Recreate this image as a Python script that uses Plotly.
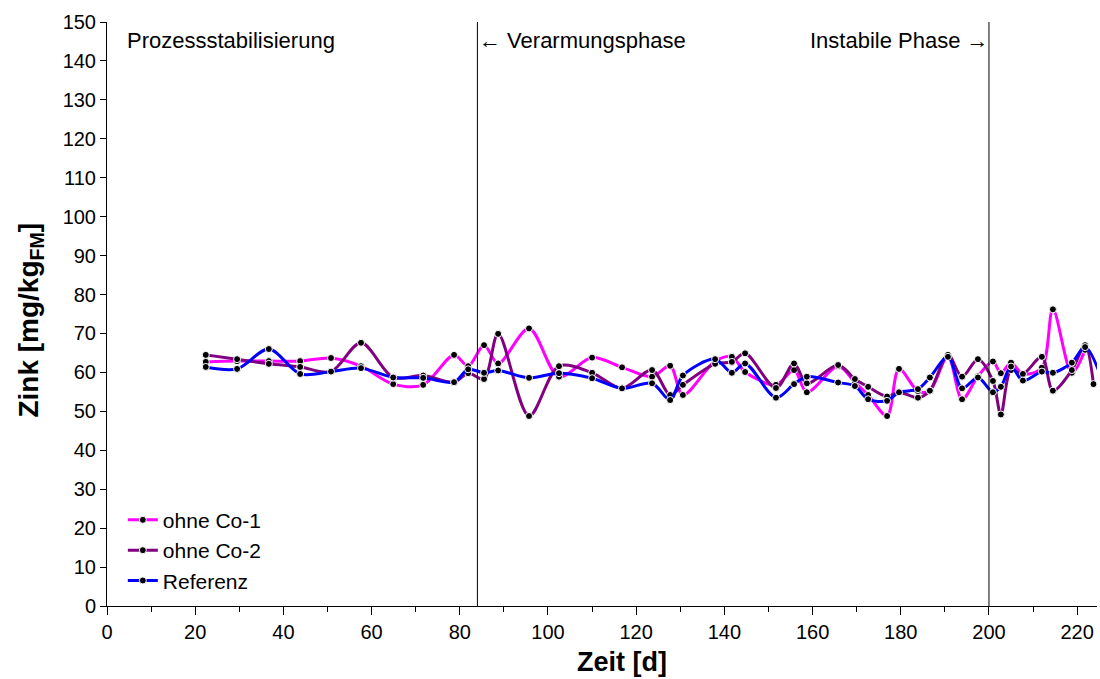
import plotly.graph_objects as go

# Sampling days [d]
days = [22.4, 29.5, 36.7, 43.8, 50.8, 57.6, 64.9, 71.7, 78.7, 81.9,
        85.5, 88.7, 95.7, 102.5, 110.0, 116.8, 123.6, 127.7, 130.6, 137.9,
        141.7, 144.7, 151.7, 155.8, 158.7, 165.8, 169.6, 172.6, 176.9, 179.6,
        183.9, 186.6, 190.7, 193.9, 197.5, 200.9, 202.7, 205.0, 207.7, 212.0,
        214.5, 218.8, 221.8, 223.7, 226.0]

# Zinc content [mg/kg FM]
ohne_co_1 = [62.7, 62.9, 62.9, 62.9, 63.7, 61.6, 57.0, 56.8, 64.5, 61.6,
             67.0, 62.3, 71.3, 58.9, 63.8, 61.3, 58.9, 61.7, 54.2, 62.9,
             64.0, 60.1, 56.8, 60.6, 54.9, 61.6, 57.5, 54.2, 48.8, 60.9,
             55.2, 55.3, 64.2, 53.1, 59.0, 62.8, 59.8, 62.5, 59.6, 61.2,
             76.2, 59.9, 65.8, None, None]
ohne_co_2 = [64.5, 63.4, 62.2, 61.4, 60.2, 67.6, 58.7, 59.2, 57.5, 59.8,
             58.3, 69.9, 48.8, 61.6, 59.9, 55.9, 60.6, 54.2, 56.8, 62.2,
             62.7, 64.9, 56.0, 62.3, 57.2, 61.9, 58.3, 56.3, 53.8, 54.9,
             53.5, 55.3, 64.5, 58.9, 63.4, 57.8, 49.2, 60.6, 59.6, 64.0,
             55.3, 60.6, 67.0, 57.0, None]
referenz = [61.4, 60.9, 66.0, 59.6, 60.2, 61.1, 58.7, 58.6, 57.5, 60.8,
            59.9, 60.5, 58.6, 59.8, 58.5, 55.9, 57.2, 52.9, 59.2, 63.4,
            59.9, 62.3, 53.5, 57.0, 58.9, 57.4, 56.5, 53.1, 52.7, 54.9,
            55.7, 58.7, 64.0, 55.9, 58.7, 54.9, 56.3, 61.5, 57.9, 60.2,
            59.9, 62.5, 66.5, None, 57.0]

series = [("ohne Co-1", ohne_co_1, "#FF00FF"),
          ("ohne Co-2", ohne_co_2, "#800080"),
          ("Referenz", referenz, "#0000FF")]

# Phase boundaries and labels
phase_bounds = [84, 200]
x_ticks = list(range(0, 221, 20))
y_ticks = list(range(0, 151, 10))

FONT = "Liberation Sans, Arial, sans-serif"

fig = go.Figure()
for name, vals, col in series:
    fig.add_trace(go.Scatter(
        x=days, y=vals, name=name, mode="lines+markers",
        connectgaps=True,
        line=dict(color=col, width=3, shape="spline", smoothing=0.9),
        marker=dict(color="black", size=7, line=dict(color="white", width=1)),
    ))

for xb in phase_bounds:
    fig.add_shape(type="line", x0=xb, x1=xb, y0=0, y1=150,
                  xref="x", yref="y", line=dict(color="black", width=1))

fig.add_annotation(x=4.0, y=145.3, text="Prozessstabilisierung", showarrow=False,
                   xanchor="left", yanchor="middle", font=dict(size=22, color="black"))
fig.add_annotation(x=84.0, y=145.3, text="\u2190 Verarmungsphase", showarrow=False,
                   xanchor="left", yanchor="middle", font=dict(size=22, color="black"))
fig.add_annotation(x=200.5, y=145.3, text="Instabile Phase \u2192", showarrow=False,
                   xanchor="right", yanchor="middle", font=dict(size=22, color="black"))

# Axis titles
fig.add_annotation(x=116.8, y=0, xref="x", yref="paper", yshift=-56,
                   text="<b>Zeit [d]</b>", showarrow=False,
                   xanchor="center", yanchor="middle", font=dict(size=27, color="black"))
fig.add_annotation(x=-0.077, y=0.49, xref="paper", yref="paper",
                   text="<b>Zink [mg/kg<sub>FM</sub>]</b>", showarrow=False, textangle=-90,
                   xanchor="center", yanchor="middle", font=dict(size=28, color="black"))

fig.update_layout(
    width=1100, height=679,
    margin=dict(l=107, r=3, t=22, b=73),
    paper_bgcolor="white", plot_bgcolor="white",
    font=dict(family=FONT, size=20, color="black"),
    showlegend=True,
    legend=dict(x=0.016, y=0.182, xanchor="left", yanchor="top",
                bgcolor="rgba(0,0,0,0)", font=dict(size=21),
                itemwidth=30, tracegroupgap=0),
    xaxis=dict(
        range=[0, 224.5], tickvals=x_ticks, showgrid=False, zeroline=False,
        showline=True, linecolor="black", linewidth=1,
        ticks="outside", ticklen=8, tickcolor="black",
        minor=dict(ticks="outside", dtick=10, tick0=0, ticklen=5, tickcolor="black"),
        tickfont=dict(size=20),
    ),
    yaxis=dict(
        range=[0, 150], tickvals=y_ticks, showgrid=False, zeroline=False,
        showline=True, linecolor="black", linewidth=1,
        ticks="outside", ticklen=6, tickcolor="black",
        tickfont=dict(size=20),
    ),
)

fig.write_html("out.html")
